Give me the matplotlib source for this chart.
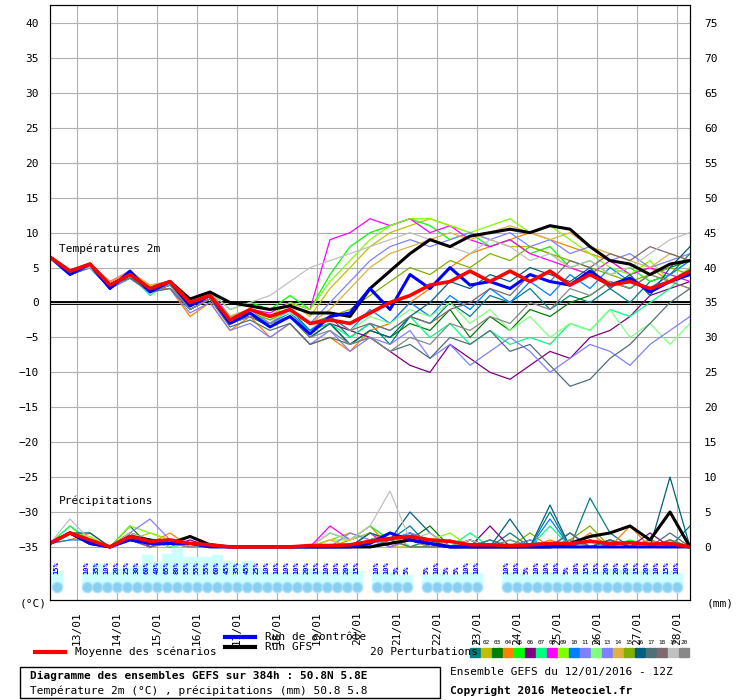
import numpy as np
import matplotlib.pyplot as plt
from matplotlib.patches import Rectangle

plt.rcParams['font.family'] = ['DejaVu Sans Mono']

# time axis: day of month, 12 h steps
days = [12.33 + 0.5 * k for k in range(33)]

mean_t = [6.5,4.5,5.5,2.5,4,2,3,0,1,-2.5,-1,-2,-1,-3,-2.5,-3,-1.5,0,1,2.5,3,4.5,3,4.5,3,4.5,2.5,4,2.5,3,2,3,4.5]
ctrl_t = [6.5,4,5.5,2,4.5,1.5,3,-0.5,1,-3,-1.5,-3.5,-2,-4.5,-2,-1.5,2,-1,4,2,5,2.5,3,2,4,3,2.5,4.5,2.5,3.5,1.5,3,4]
gfs_t = [6.5,4.5,5.5,2.5,4,2,3,0.5,1.5,0,-0.5,-1,-0.5,-1.5,-1.5,-2,2,4.5,7,9,8,9.5,10,10.5,10,11,10.5,8,6,5.5,4,5.5,6]

pert_t = [
    [6.5,4,5,2,3.5,1.5,2.5,-0.5,1.5,-3,-1.5,-3,-1,-4,-2,-5,-3,-6,-2,-3,0,-2,1,0,2,-1,1,0,2,0,3,4,7],
    [6.5,4.5,5,2.5,4,2.5,3,0,1,-2,-1,-2,0,-2,2,5,8,10,11,12,11,10,9,8,8,7,5,4,3,2,4,3,2],
    [6.5,4,5.5,2,4,1.5,2.5,-1,0.5,-3,-2,-3.5,-2,-5,-3,-6,-4,-5,-3,-4,-1,-5,-2,-4,-1,-2,0,1,3,2,4,5,6],
    [6.5,4.5,5,3,4.5,2,2,-2,0,-4,-2,-5,-3,-6,-5,-7,-4,-3,0,2,5,7,8,9,10,9,8,7,6,4,5,3,4],
    [6.5,4.5,5.5,2.5,4,2,3,0.5,1.5,-1,0,-1,1,-1,4,8,10,11,12,11,9,10,8,9,7,8,5,6,4,5,3,4,6],
    [6.5,4,5,2.5,3.5,2,2.5,-0.5,0.5,-2.5,-2,-3,-2,-4,-3,-4,-5,-7,-9,-10,-6,-8,-10,-11,-9,-7,-8,-5,-4,-2,1,2,3],
    [6.5,4.5,5.5,2,4,1,3,0,1,-3,-1.5,-3,-2,-4,-3,-5,-3,-4,-2,-5,-3,-6,-4,-6,-5,-6,-3,-4,-1,-2,0,2,5],
    [6.5,4.5,5.5,3,4.5,2,3,0,1.5,-2,-1,-1.5,0,-1,9,10,12,11,12,10,11,9,8,9,7,6,5,4,6,4,5,4,3],
    [6.5,4,5,2.5,4,2,3,0.5,1,-2,-1,-2,0,-1,3,6,9,11,12,12,11,10,11,12,10,11,9,7,5,4,6,3,5],
    [6.5,4.5,5.5,2,3.5,1.5,2.5,-1,0.5,-3,-2,-3,-1.5,-4,-2,-4,-1,-3,0,-2,1,-1,2,0,3,1,4,2,5,3,2,4,6],
    [6.5,4,5,2,4,2,2.5,-0.5,1,-3,-1,-3,-1,-3,0,3,6,8,9,8,9,10,9,10,8,9,7,8,6,7,5,6,7],
    [6.5,4.5,5.5,2.5,4,2,2.5,0,1.5,-2.5,-1,-2.5,-1.5,-3,-2,-4,-2,-3,-1,-2,0,-3,-1,-4,-2,-5,-3,-4,-1,-5,-3,-6,-3],
    [6.5,4,5,2,3.5,1.5,2,-1.5,0,-4,-3,-5,-3,-6,-4,-7,-5,-6,-4,-8,-6,-9,-7,-5,-7,-10,-8,-6,-7,-9,-6,-4,-2],
    [6.5,4.5,5.5,3,4.5,2.5,3,0,1,-2,-1,-2,-1,-3,-1,2,5,7,8,9,10,9,10,11,10,9,10,8,7,6,5,7,6],
    [6.5,4,5.5,2.5,4,2,3,0,1,-2.5,-1.5,-2.5,-1,-3,-2,-1,1,3,5,4,6,5,7,6,8,7,6,5,4,3,4,5,4],
    [6.5,4.5,5,2,4,1.5,2.5,-0.5,1,-3,-1.5,-3.5,-2,-5,-3,-6,-4,-5,-2,0,3,2,4,3,5,4,3,5,2,4,1,5,8],
    [6.5,4,5,2.5,3.5,1.5,2,-1,0.5,-3.5,-2.5,-4,-3,-6,-5,-6,-5,-7,-6,-8,-5,-6,-4,-7,-6,-9,-12,-11,-8,-6,-3,0,2],
    [6.5,4.5,5.5,2,4,2,3,-0.5,1,-2.5,-1,-2,-1,-3,-2,-4,-3,-4,-2,-3,-1,0,2,1,4,3,6,5,7,6,8,7,6],
    [6.5,4.5,5,2.5,4,2,3,0,1.5,-1,0,1,3,5,6,7,8,9,10,9,8,7,9,8,6,7,5,6,4,5,7,9,10],
    [6.5,4,5.5,2.5,4,1.5,2.5,-1,0.5,-3,-2,-3,-2,-5,-4,-6,-5,-7,-5,-6,-3,-4,-2,-3,0,-1,2,1,3,2,4,3,2],
]

# precipitation (mm)
mean_p = [0.5,2,1,0,1.5,0.8,1,0.5,0.3,0,0,0,0,0.2,0.2,0.3,0.8,1.2,1.5,1,0.8,0.3,0.3,0.2,0.3,0.5,0.5,0.8,0.5,0.6,0.4,0.5,0]
ctrl_p = [0.5,2,0.5,0,1,0.5,0.5,0.5,0,0,0,0,0,0,0,0,0.5,2,1,0.5,0,0,0,0,0,0,0,0,0,0,0,0,0]
gfs_p = [0.5,2,0.5,0,1.5,1,0.5,1.5,0.3,0,0,0,0,0,0,0,0,0.5,1,0.5,0,0,0,0,0,0,0.5,1.5,2,3,1,5,0]
pert_p = [
    [0.5,2,1,0,2,1,0,0.5,0,0,0,0,0,0,0,0,2,1,3,0,1,0,0,2,0,5,0,7,2,0,1,0,3],
    [0.5,3,0.5,0,1,2,1,0,0,0,0,0,0,0,1,2,1,0,0,0,0,0,0,0,0,0,0,0,0,0,0,0,0],
    [0.5,2,1,0,3,0,1,0.5,0,0,0,0,0,0,0,0,1,2,1,3,0,1,0,0,1,0,2,0,1,0,0,1,0],
    [0.5,1,2,0,1,0.5,2,0,0.5,0,0,0,0,0,0,1,3,0,1,0,0,0,0,0,0,1,0,2,0,3,0,1,0],
    [0.5,2,1,0,2,1,0.5,0,0,0,0,0,0,0,2,1,3,1,0,0,0,0,0,0,0,0,0,0,0,1,0,0,0],
    [0.5,2,0.5,0,1,1,0,1,0,0,0,0,0,0,0,0,0,1,2,1,0,0,3,0,0,0,0,1,0,0,2,0,0],
    [0.5,3,1,0,1,0.5,0.5,0,0,0,0,0,0,0,0,0,1,2,0,1,0,2,0,1,0,3,0,1,0,0,0,1,0],
    [0.5,2,1,0,2,0,1,0.5,0,0,0,0,0,0,3,1,2,0,1,0,0,0,0,0,0,0,0,0,0,0,0,0,0],
    [0.5,2,1.5,0,3,2,1,0,0,0,0,0,0,0,1,1,2,1,0,1,2,0,0,0,0,0,1,0,0,0,0,0,0],
    [0.5,1,1,0,1,0.5,1,0,0,0,0,0,0,0,0,0,1,1,2,0,0,0,1,0,0,4,0,1,0,0,1,0,0],
    [0.5,2,1,0,2,4,1,0,0,0,0,0,0,0,0,2,1,0,1,0,0,0,0,0,0,0,1,0,1,0,0,0,0],
    [0.5,2,0.5,0,1,1,0,0.5,0,0,0,0,0,0,0,0,0,1,0,1,0,0,0,1,0,0,0,0,0,0,0,0,0],
    [0.5,2,1,0,2,1,1,0,0,0,0,0,0,0,0,0,0,1,2,1,0,0,0,0,1,0,2,0,0,0,0,0,0],
    [0.5,2,1,0,1,1,0.5,0,0,0,0,0,0,0,1,0,2,1,1,0,1,0,0,0,0,0,0,0,0,0,1,0,0],
    [0.5,2,1,0,2,1,0.5,0,0,0,0,0,0,0,0,0,1,2,1,0,0,1,0,0,2,0,1,3,0,0,1,0,0],
    [0.5,2,2,0,1,0,1,0,0,0,0,0,0,0,0,0,2,1,5,2,0,1,0,4,0,6,0,0,1,0,0,10,0],
    [0.5,2,1,0,2,1,1,0.5,0,0,0,0,0,0,0,0,0,1,0,1,0,0,1,0,0,0,2,0,1,0,0,2,0],
    [0.5,2,1,0,1,0,0.5,0,0,0,0,0,0,0,0,0,1,1,0,0,0,0,0,0,0,0,0,0,0,0,0,1,0],
    [0.5,4,1,0,2,1,1,0,0,0,0,0,0,0,2,1,3,8,1,2,0,1,0,0,0,0,0,0,0,0,0,0,0],
    [0.5,2,1,0,1,1,0.5,0,0,0,0,0,0,0,0,0,1,2,1,0,0,0,0,1,0,0,1,0,0,0,0,0,0],
]

pert_colors = ['#008080','#c0c000','#008000','#ff8000','#00ff00','#800080','#00ff80',
               '#ff00ff','#80ff00','#0080ff','#8080ff','#80ff80','#8080ff','#e0b040',
               '#80b000','#006080','#507078','#806870','#c0c0c0','#888888']

# snow probability row
snow_days = [12.5] + [13.25 + 0.25 * i for i in range(28)] + [20.5 + 0.25 * i for i in range(4)] \
    + [21.75 + 0.25 * i for i in range(6)] + [23.75 + 0.25 * i for i in range(18)]
snow_pct = [15, 10,35,10,20,25,30,60,40,65,80,55,55,55,60,45,35,45,25,10,10,10,10,20,15,10,10,20,15,
            10,10,5,5, 5,10,5,5,10,10,
            10,10,5,10,10,10,5,10,15,15,20,20,20,15,20,10,15,10]

day_ticks = list(range(13, 29))

fig = plt.figure(figsize=(7.4, 7.0), dpi=100)
ax = fig.add_axes([50/740, 100/700, 640/740, 595/700])
ax.set_xlim(12.33, 28.33)
ax.set_ylim(-42.6, 42.6)

ax.set_yticks(range(-35, 41, 5))
ax.set_xticks(day_ticks)
ax.grid(True, color='#b0b0b0', lw=0.8)
ax.set_axisbelow(True)
ax.tick_params(labelsize=8, length=0, pad=8)
ax.set_xticklabels(['%02d/01' % d for d in day_ticks], rotation=90)
ax.axhline(0, color='black', lw=2.8)
ax.axhline(0, color='white', lw=0.6)

pr = lambda v: [x - 35 for x in v]
for i in range(20):
    ax.plot(days, pert_t[i], color=pert_colors[i], lw=0.9)
    ax.plot(days, pr(pert_p[i]), color=pert_colors[i], lw=0.9)
ax.plot(days, gfs_t, color='black', lw=2.2)
ax.plot(days, pr(gfs_p), color='black', lw=2.2)
ax.plot(days, ctrl_t, color='blue', lw=2.2)
ax.plot(days, pr(ctrl_p), color='blue', lw=2.2)
ax.plot(days, mean_t, color='red', lw=2.6)
ax.plot(days, pr(mean_p), color='red', lw=2.6)

ax.text(12.55, 7.2, 'Températures 2m', fontsize=8)
ax.text(12.55, -28.8, 'Précipitations', fontsize=8)

for d, p in zip(snow_days, snow_pct):
    ax.add_patch(Rectangle((d - 0.125, -40.7), 0.25, 1.5 + 0.05 * p, color='#ccffff', zorder=2))
ax.scatter(snow_days, [-40.7] * len(snow_days), s=55, color='#88d0f0', edgecolor='#b0e0ff', zorder=3)
for d, p in zip(snow_days, snow_pct):
    ax.text(d, -38.9, '%d%%' % p, rotation=90, fontsize=5, color='blue', ha='center', va='bottom',
            fontweight='bold', zorder=4)

ax2 = ax.twinx()
ax2.set_ylim(-42.6 + 35, 42.6 + 35)
ax2.set_yticks(range(0, 76, 5))
ax2.tick_params(labelsize=8, length=0, pad=10)

fig.text(20/740, 1 - 607/700, '(°C)', fontsize=8)
fig.text(707/740, 1 - 607/700, '(mm)', fontsize=8)

# legend
fig.add_artist(plt.Line2D([35/740, 65/740], [1 - 652/700] * 2, color='red', lw=3))
fig.text(75/740, 1 - 652/700, 'Moyenne des scénarios', fontsize=8, va='center')
fig.add_artist(plt.Line2D([225/740, 255/740], [1 - 637/700] * 2, color='blue', lw=3))
fig.text(265/740, 1 - 637/700, 'Run de contrôle', fontsize=8, va='center')
fig.add_artist(plt.Line2D([225/740, 255/740], [1 - 647/700] * 2, color='black', lw=3))
fig.text(265/740, 1 - 647/700, 'Run GFS', fontsize=8, va='center')
fig.text(370/740, 1 - 652/700, '20 Perturbations', fontsize=8, va='center')
for i, c in enumerate(pert_colors):
    x0 = 470 + i * 11
    fig.add_artist(Rectangle((x0/740, 1 - 657/700), 10/740, 9/700, color=c))
    fig.text((x0 + 5)/740, 1 - 643/700, '%02d' % (i + 1), fontsize=4.3, ha='center', va='center')

fig.add_artist(Rectangle((20/740, 1 - 698/700), 420/740, 31/700, fill=False, lw=1, ec='black'))
fig.text(30/740, 1 - 676/700, 'Diagramme des ensembles GEFS sur 384h : 50.8N 5.8E',
         fontsize=8, fontweight='bold', va='center')
fig.text(30/740, 1 - 691/700, 'Température 2m (°C) , précipitations (mm) 50.8 5.8', fontsize=8, va='center')
fig.text(450/740, 1 - 672/700, 'Ensemble GEFS du 12/01/2016 - 12Z', fontsize=8, va='center')
fig.text(450/740, 1 - 691/700, 'Copyright 2016 Meteociel.fr', fontsize=8, fontweight='bold', va='center')

fig.savefig('out.png', dpi=100)
